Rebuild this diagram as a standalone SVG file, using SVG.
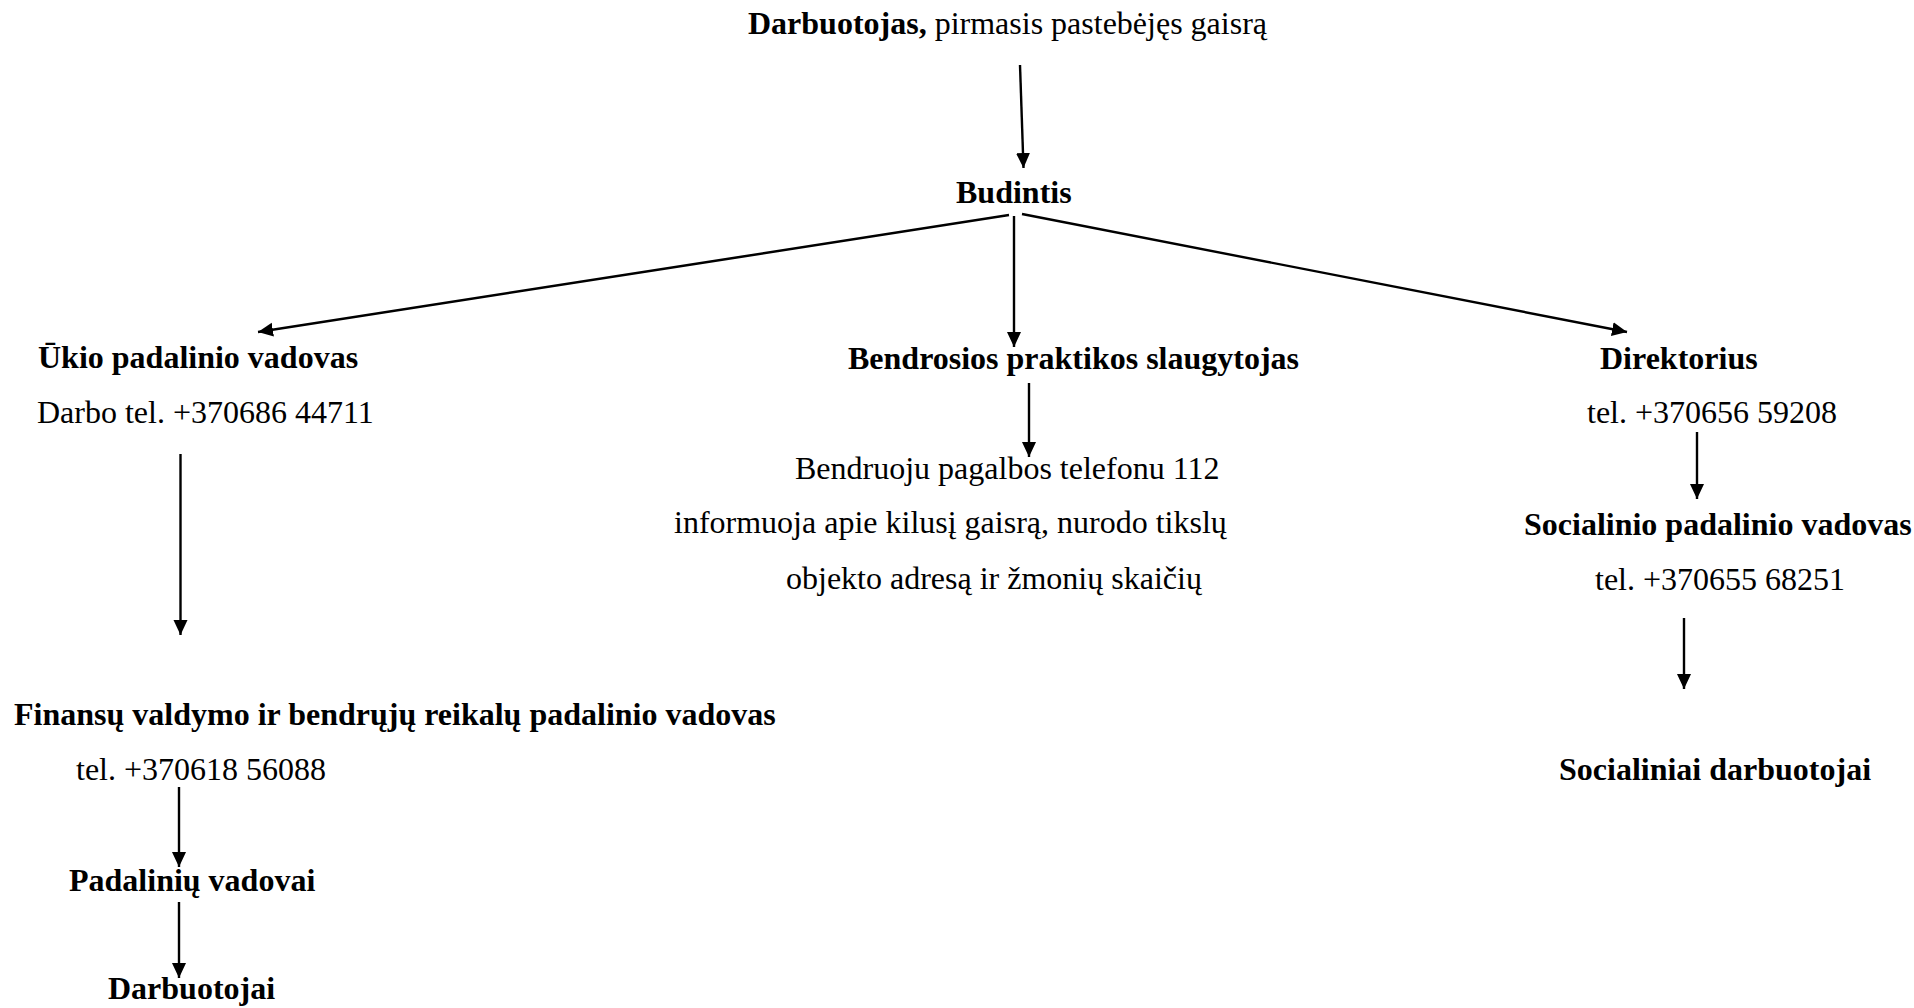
<svg xmlns="http://www.w3.org/2000/svg" width="1914" height="1008" viewBox="0 0 1914 1008">
<style>
text{font-family:"Liberation Serif","Times New Roman",serif;font-size:32px;fill:#000}
.b{font-weight:bold}
.c line{stroke:#000;stroke-width:2.4;fill:none}
</style>
<defs>
<marker id="ah" markerUnits="userSpaceOnUse" markerWidth="16" markerHeight="16" refX="15" refY="7" orient="auto">
<path d="M0,0 L15,7 L0,14 z" fill="#000"/>
</marker>
</defs>
<rect width="1914" height="1008" fill="#fff"/>
<g class="c" id="connectors">
<line x1="1020" y1="65" x2="1023.5" y2="168" marker-end="url(#ah)"/>
<line x1="1009" y1="215" x2="258" y2="332" marker-end="url(#ah)"/>
<line x1="1014" y1="216" x2="1014" y2="347" marker-end="url(#ah)"/>
<line x1="1022" y1="214" x2="1627" y2="332" marker-end="url(#ah)"/>
<line x1="180.5" y1="454" x2="180.5" y2="635" marker-end="url(#ah)"/>
<line x1="179" y1="787" x2="179" y2="867" marker-end="url(#ah)"/>
<line x1="179" y1="902" x2="179" y2="978" marker-end="url(#ah)"/>
<line x1="1029" y1="383" x2="1029" y2="457" marker-end="url(#ah)"/>
<line x1="1697" y1="432" x2="1697" y2="499" marker-end="url(#ah)"/>
<line x1="1684" y1="618" x2="1684" y2="689" marker-end="url(#ah)"/>
</g>
<g id="n-darbuotojas"><text x="748" y="34"><tspan class="b">Darbuotojas,</tspan> pirmasis pastebėjęs gaisrą</text></g>
<g id="n-budintis"><text class="b" x="956" y="203">Budintis</text></g>
<g id="n-ukio"><text class="b" x="38" y="368">Ūkio padalinio vadovas</text><text x="37" y="423">Darbo tel. +370686 44711</text></g>
<g id="n-finansu"><text class="b" x="14" y="725">Finansų valdymo ir bendrųjų reikalų padalinio vadovas</text><text x="76" y="780">tel. +370618 56088</text></g>
<g id="n-padaliniu"><text class="b" x="69" y="891">Padalinių vadovai</text></g>
<g id="n-darbuotojai"><text class="b" x="108" y="999">Darbuotojai</text></g>
<g id="n-slaugytojas"><text class="b" x="848" y="369">Bendrosios praktikos slaugytojas</text></g>
<g id="n-pagalba"><text x="795" y="479">Bendruoju pagalbos telefonu 112</text><text x="674" y="533">informuoja apie kilusį gaisrą, nurodo tikslų</text><text x="786" y="589">objekto adresą ir žmonių skaičių</text></g>
<g id="n-direktorius"><text class="b" x="1600" y="369">Direktorius</text><text x="1587" y="423">tel. +370656 59208</text></g>
<g id="n-socialinio"><text class="b" x="1524" y="535">Socialinio padalinio vadovas</text><text x="1595" y="590">tel. +370655 68251</text></g>
<g id="n-socialiniai"><text class="b" x="1559" y="780">Socialiniai darbuotojai</text></g>
</svg>
